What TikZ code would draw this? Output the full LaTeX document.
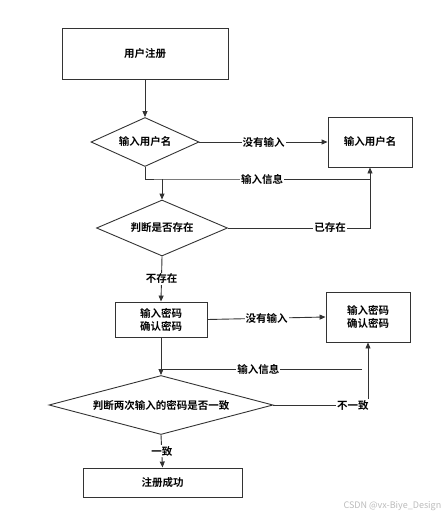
\documentclass[tikz,border=0pt]{standalone}
\usepackage{fontspec}
\usepackage{xcolor}
\setmainfont{Noto Sans CJK SC}[BoldFont={Noto Sans CJK SC Bold}]
\usetikzlibrary{positioning,shapes.geometric,arrows.meta}

\definecolor{edgegray}{HTML}{333333}
\definecolor{markgray}{HTML}{BBBBBB}

\begin{document}
\begin{tikzpicture}[
  x=1pt, y=-1pt,
  every node/.style={font=\fontsize{10.5pt}{13pt}\selectfont\bfseries},
  box/.style={draw=edgegray, line width=0.9pt, inner sep=0pt, align=center},
  decision/.style={diamond, draw=edgegray, line width=0.9pt, inner sep=0pt},
  link/.style={draw=edgegray, line width=0.9pt},
  arrow/.style={link, -{Triangle[length=6pt,width=5pt]}},
  tag/.style={fill=white, inner sep=1pt}
]
\useasboundingbox (0,0) rectangle (443,517);

% Upper part: user name
\node[box, minimum width=166pt, minimum height=51pt] (reg) at (145,53.5) {用户注册};
\node[decision, aspect=2.2, minimum width=108pt, minimum height=49pt] (name) at (145,142) {输入用户名};
\node[box, minimum width=84pt, minimum height=50pt] (namebox) at (370,142) {输入用户名};
\node[decision, aspect=2.3, minimum width=131pt, minimum height=56pt] (exists) at (162,228) {判断是否存在};
\draw[arrow] (reg) -- (name);
\draw[arrow] (name.east) -- node[tag] {没有输入} (namebox.west);

% Feedback of the name
\coordinate (j1) at (162,179);
\draw[arrow] (name.south) |- (j1) -- (namebox.south |- j1) -- (namebox.south);
\node[tag] (info1) at (262,179) {输入信息};
\draw[arrow] (j1) -- (exists.north);
\draw[link] (exists.east) -- node[tag, pos=0.72] {已存在} (namebox.south |- exists.east) -- (namebox.south |- j1);

% Lower part: password
\node[box, minimum width=92pt, minimum height=35pt] (pw) at (161,319.5) {输入密码\\确认密码};
\node[box, minimum width=84pt, minimum height=50pt] (pwbox) at (368,317) {输入密码\\确认密码};
\node[decision, aspect=3.8, minimum width=224pt, minimum height=59pt] (same) at (161,405) {判断两次输入的密码是否一致};
\node[box, minimum width=159pt, minimum height=29pt] (done) at (162.5,482.5) {注册成功};
\draw[arrow] (exists.south) -- node[tag] {不存在} (pw.north);
\draw[arrow] (pw.east) -- node[tag] {没有输入} (pwbox.west);
\draw[arrow] (pw.south) -- (same.north);

% Feedback of the password
\coordinate (f2) at (362,369);
\coordinate (j2) at (161,369);
\draw[link] (f2) -- node[tag, pos=0.515] {输入信息} (j2);
\draw[arrow] (same.east) -- node[tag, pos=0.84] {不一致} (pwbox.south |- same.east) -- (pwbox.south);
\draw[arrow] (same.south) -- node[tag] {一致} (done.north);

% Watermark
\node[anchor=west, text=markgray, font=\fontsize{9pt}{10pt}\selectfont] (mark) at (340,506) {CSDN @vx-Biye\_Design};
\end{tikzpicture}
\end{document}
